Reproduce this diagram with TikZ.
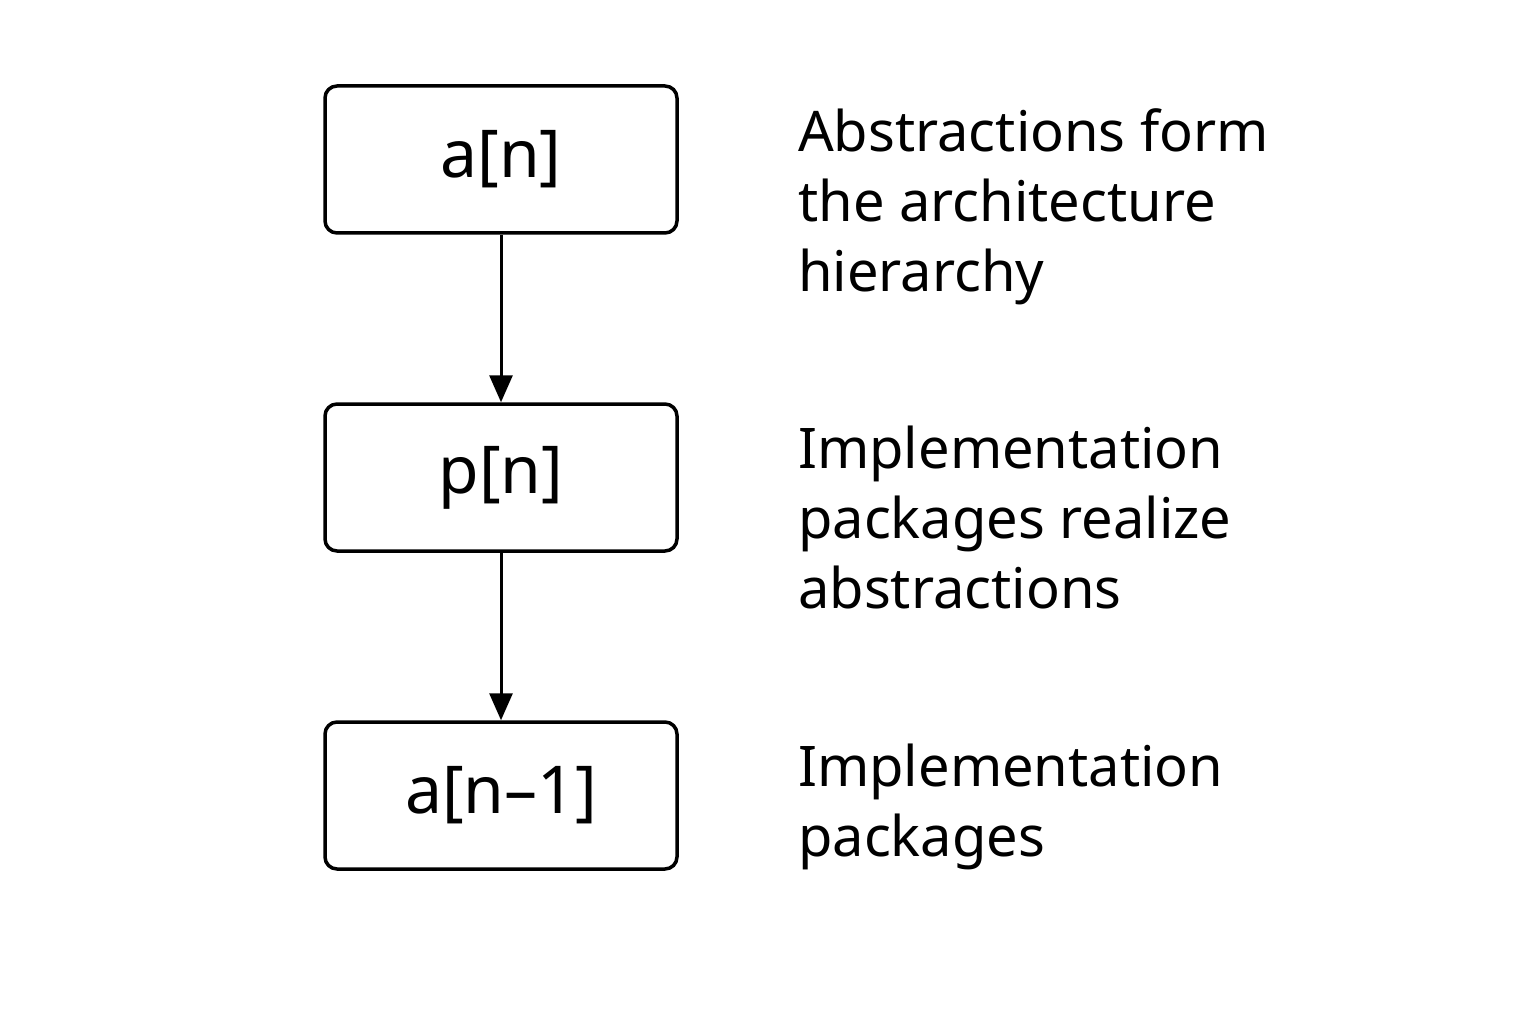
\documentclass[tikz,border=0pt]{standalone}
\usepackage{fontspec}
\setmainfont{Noto Sans}
\usetikzlibrary{arrows.meta}
\begin{document}
\begin{tikzpicture}[x=1pt,y=-1pt,
  box/.style={draw,line width=3.5pt,rounded corners=12pt,minimum width=352pt,minimum height=147pt,inner sep=0pt,font=\fontsize{66}{70}\selectfont},
  note/.style={anchor=north west,align=left,inner sep=0pt,font=\fontsize{56}{70}\selectfont},
  conn/.style={line width=3pt,-{Triangle[length=27pt,width=23pt]}}]
\useasboundingbox (0,0) rectangle (1536,1024);
\node[box] (an) at (501,159.5) {a[n]};
\node[box] (pn) at (501,477.5) {p[n]};
\node[box] (an1) at (501,795.5) {a[n–1]};
\draw[conn] (an) -- (pn);
\draw[conn] (pn) -- (an1);
\node[note] (t1) at (798,108) {Abstractions form\\the architecture\\hierarchy};
\node[note] (t2) at (798,426) {Implementation\\packages realize\\abstractions};
\node[note] (t3) at (798,744) {Implementation\\packages};
\end{tikzpicture}
\end{document}
